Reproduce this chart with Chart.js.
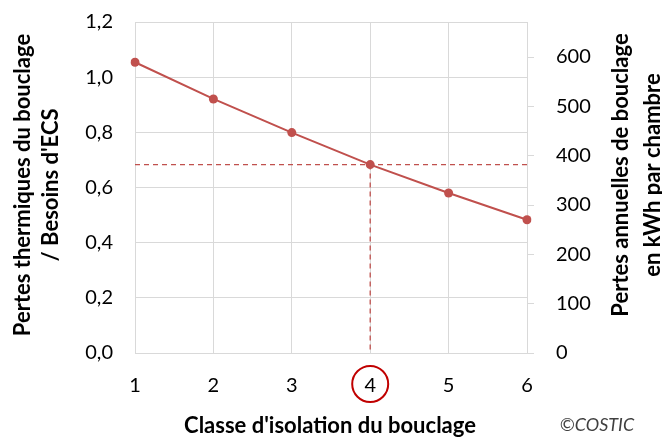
<!DOCTYPE html>
<html>
<head>
<meta charset="utf-8">
<script src="https://cdn.jsdelivr.net/npm/chart.js@4"></script>
<style>
  html, body { margin: 0; padding: 0; background: #fff; }
  #wrap { width: 662px; height: 437px; position: relative; }
</style>
</head>
<body>
<div id="wrap"><canvas id="chart"></canvas></div>
<script>
// données
const classes = ['1', '2', '3', '4', '5', '6'];
const ratioPertes = [1.054, 0.921, 0.799, 0.683, 0.580, 0.483];
const classeRepere = '4';
const valeurRepere = 0.683;
const ticksDroite = [0, 100, 200, 300, 400, 500, 600];

const rouge = '#C0504D';
const grille = '#d9d9d9';
const police = 'Lato, "Open Sans", sans-serif';

// titres d'axes et cercle autour de la classe 4
const decorPlugin = {
    id: 'decor',
    afterDraw(chart) {
        const ctx = chart.ctx;
        const x = chart.scales.x;
        ctx.save();
        ctx.fillStyle = '#000';
        ctx.textAlign = 'center';
        ctx.textBaseline = 'middle';
        ctx.font = 'bold 22px ' + police;
        ctx.fillText("Classe d'isolation du bouclage", 330, 426);

        const vertical = function(txt, px, py) {
            ctx.save();
            ctx.translate(px, py);
            ctx.rotate(-Math.PI / 2);
            ctx.fillText(txt, 0, 0);
            ctx.restore();
        };
        vertical('Pertes thermiques du bouclage', 23, 185);
        vertical("/ Besoins d'ECS", 51, 185);
        vertical('Pertes annuelles de bouclage', 621, 175);
        vertical('en kWh par chambre', 653, 175);

        ctx.font = 'italic 18px ' + police;
        ctx.fillStyle = '#404040';
        ctx.fillText('\u00A9COSTIC', 597, 425);

        // cercle
        const cx = x.getPixelForValue(classes.indexOf(classeRepere));
        ctx.beginPath();
        ctx.strokeStyle = '#C00000';
        ctx.lineWidth = 2;
        ctx.arc(cx, 384, 18, 0, Math.PI * 2);
        ctx.stroke();
        ctx.restore();
    }
};

// largeur fixe des axes verticaux, sans marge en haut/bas
function fixerAxeY(scale) {
    scale.width = 135;
    scale.paddingTop = 0;
    scale.paddingBottom = 0;
}

new Chart(document.getElementById('chart'), {
    type: 'line',
    data: {
        labels: classes,
        datasets: [
            {
                data: ratioPertes,
                borderColor: rouge,
                backgroundColor: rouge,
                borderWidth: 2,
                pointRadius: 4.5,
                pointBackgroundColor: rouge,
                pointBorderWidth: 0,
                yAxisID: 'y',
                order: 1
            },
            {
                data: classes.map(() => valeurRepere),
                borderColor: rouge,
                borderWidth: 1.3,
                borderDash: [5, 4],
                pointRadius: 0,
                yAxisID: 'y',
                order: 2
            },
            {
                data: [{ x: classeRepere, y: valeurRepere }, { x: classeRepere, y: 0 }],
                borderColor: rouge,
                borderWidth: 1.3,
                borderDash: [5, 4],
                pointRadius: 0,
                yAxisID: 'y',
                order: 2
            }
        ]
    },
    plugins: [decorPlugin],
    options: {
        responsive: true,
        maintainAspectRatio: false,
        animation: false,
        layout: { padding: { top: 22, left: 0, right: 0, bottom: 0 } },
        plugins: {
            legend: { display: false },
            tooltip: { enabled: false }
        },
        scales: {
            x: {
                type: 'category',
                offset: false,
                grid: { color: grille, drawTicks: false },
                border: { color: grille },
                ticks: {
                    color: '#000',
                    padding: 21,
                    font: { family: police, size: 20 }
                },
                afterFit: function(scale) { scale.height = 84; }
            },
            y: {
                position: 'left',
                min: 0,
                max: 1.2,
                grid: { color: grille, drawTicks: false },
                border: { color: grille },
                ticks: {
                    stepSize: 0.2,
                    color: '#000',
                    padding: 22,
                    font: { family: police, size: 20 },
                    callback: function(value) {
                        return value.toFixed(1).replace('.', ',');
                    }
                },
                afterFit: fixerAxeY
            },
            y2: {
                position: 'right',
                min: 0,
                max: 671,
                grid: { drawOnChartArea: false, color: grille, tickLength: 7 },
                border: { color: grille },
                ticks: {
                    color: '#000',
                    padding: 22,
                    font: { family: police, size: 20 }
                },
                afterBuildTicks: function(scale) {
                    scale.ticks = ticksDroite.map(v => ({ value: v }));
                },
                afterFit: fixerAxeY
            }
        }
    }
});
</script>
</body>
</html>
